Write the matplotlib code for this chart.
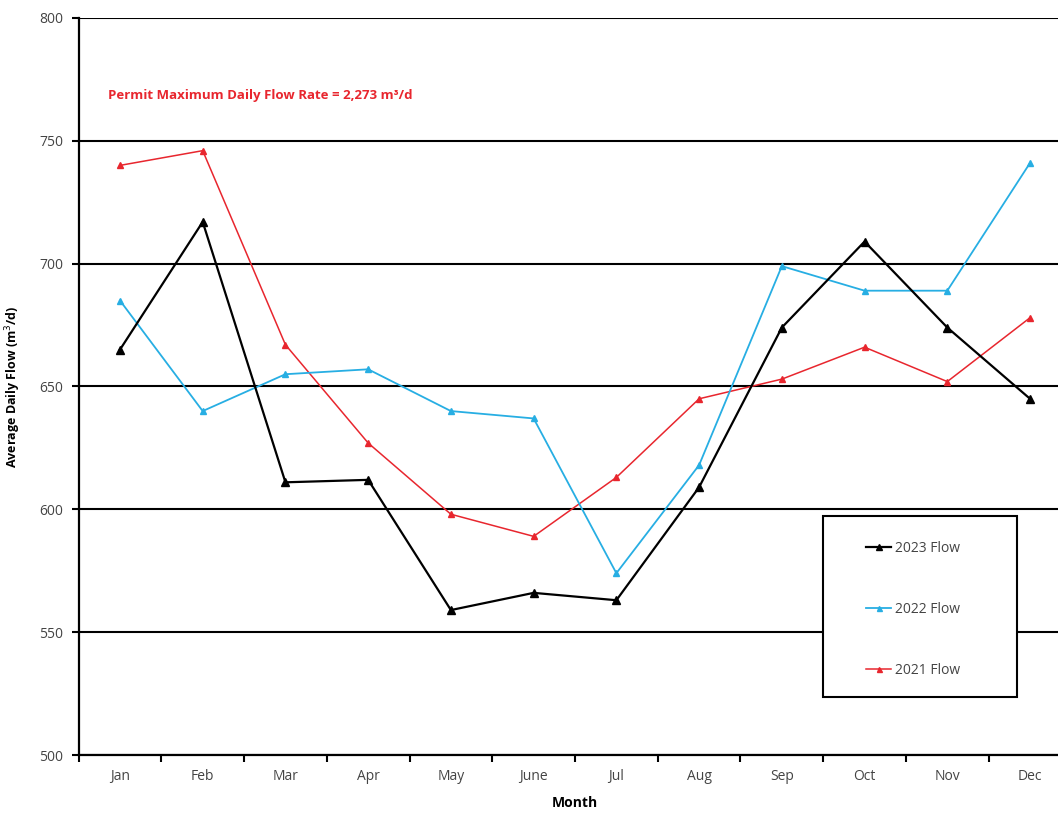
import matplotlib
matplotlib.use("Agg")
from matplotlib import pyplot as plt
from matplotlib.patches import Rectangle

# Dati
mesi = ['Jan', 'Feb', 'Mar', 'Apr', 'May', 'June', 'Jul', 'Aug', 'Sep', 'Oct', 'Nov', 'Dec']
flow_2023 = [665, 717, 611, 612, 559, 566, 563, 609, 674, 709, 674, 645]
flow_2022 = [685, 640, 655, 657, 640, 637, 574, 618, 699, 689, 689, 741]
flow_2021 = [740, 746, 667, 627, 598, 589, 613, 645, 653, 666, 652, 678]
y_ticks = [500, 550, 600, 650, 700, 750, 800]

plt.rcParams['font.family'] = ['Open Sans', 'DejaVu Sans']

W, H = 1058, 813
fig = plt.figure(figsize=(W / 100, H / 100), dpi=100)
# assi: sinistra 78.6 px, destra ~1071 px (oltre il bordo), basso 755, alto 18
ax = fig.add_axes([78.6 / W, (H - 755) / H, (1071.4 - 78.6) / W, (755 - 18) / H])

x = list(range(len(mesi)))
ax.plot(x, flow_2023, color='black', lw=1.6, marker='^', ms=6, label='2023 Flow', zorder=5)
ax.plot(x, flow_2022, color='#27aee3', lw=1.3, marker='^', ms=4.5, label='2022 Flow', zorder=4)
ax.plot(x, flow_2021, color='#e8262e', lw=1.1, marker='^', ms=4.5, label='2021 Flow', zorder=3)

ax.set_xlim(-0.5, len(mesi) - 0.5)
ax.set_ylim(500, 800)
ax.set_yticks(y_ticks)
ax.set_yticklabels([str(v) for v in y_ticks], color='#444444', fontsize=10)
ax.set_xticks(x)
ax.set_xticklabels(mesi, color='#444444', fontsize=10)
ax.tick_params(axis='x', which='major', length=0, pad=10)
# tacche sui bordi delle categorie
ax.set_xticks([i - 0.5 for i in range(len(mesi) + 1)], minor=True)
ax.tick_params(axis='x', which='minor', length=5, width=1.5, color='black')
ax.tick_params(axis='y', length=5, width=1.5, color='black', pad=6)

ax.grid(axis='y', color='black', lw=1.5, zorder=1)
ax.set_axisbelow(True)
for s in ['top', 'right']:
    ax.spines[s].set_visible(False)
ax.spines['left'].set_linewidth(1.6)
ax.spines['bottom'].set_linewidth(1.6)

ax.set_xlabel('Month', fontsize=10, fontweight='bold', labelpad=9)
ax.set_ylabel('Average Daily Flow (m$^3$/d)', fontsize=9, fontweight='bold', labelpad=12)

ax.text(-0.14, 768.5, 'Permit Maximum Daily Flow Rate = 2,273 m³/d', color='#e8262e',
        fontsize=9.5, fontweight='bold', va='center', ha='left')

# cornice della legenda
box = Rectangle((823 / W, (H - 697) / H), 194 / W, 181 / H,
                transform=fig.transFigure, facecolor='white',
                edgecolor='black', lw=1.5, zorder=10, clip_on=False)
ax.add_artist(box)
leg = ax.legend(loc='upper left', bbox_to_anchor=(866 / W, (H - 541) / H),
                bbox_transform=fig.transFigure, fontsize=10, frameon=False,
                labelspacing=3.3, borderpad=0, handlelength=1.8, handletextpad=0.3,
                borderaxespad=0, markerscale=0.8)
leg.set_zorder(11)
for t in leg.get_texts():
    t.set_color('#444444')

fig.savefig('out.png', dpi=100)
